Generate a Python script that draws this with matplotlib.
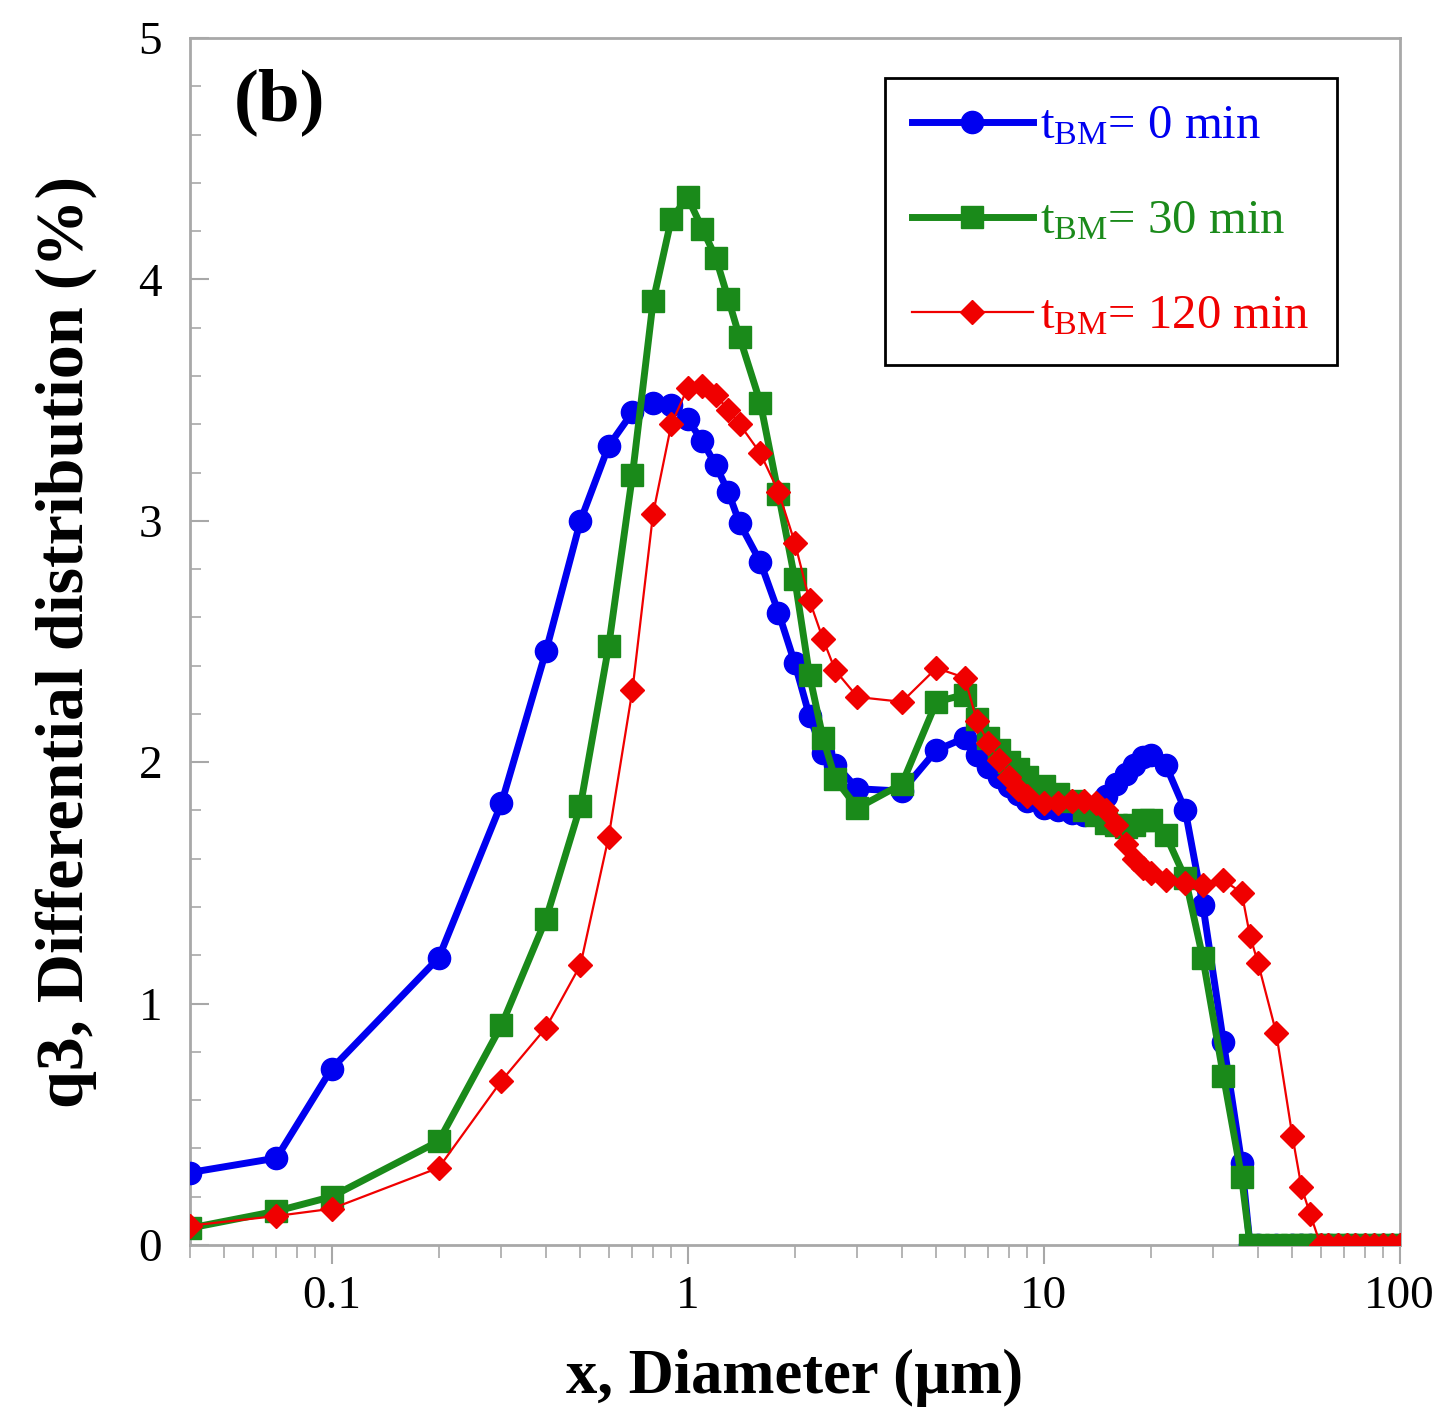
import matplotlib
matplotlib.use("Agg")
import matplotlib.pyplot as plt
from matplotlib.ticker import LogLocator, NullFormatter, FixedLocator, MultipleLocator

# ---- data ----
diameter = [0.04, 0.07, 0.1, 0.2, 0.3, 0.4, 0.5, 0.6, 0.7, 0.8, 0.9, 1.0, 1.1, 1.2, 1.3, 1.4,
            1.6, 1.8, 2.0, 2.2, 2.4, 2.6, 3, 4, 5, 6, 6.5, 7, 7.5, 8, 8.5, 9, 10, 11, 12, 13,
            14, 15, 16, 17, 18, 19, 20, 22, 25, 28, 32, 36, 38, 40, 45, 50, 53, 56, 60, 63,
            67, 71, 75, 80, 85, 90, 95, 100]

q3_0min = [0.30, 0.36, 0.73, 1.19, 1.83, 2.46, 3.00, 3.31, 3.45, 3.49, 3.48, 3.42, 3.33, 3.23, 3.12, 2.99,
           2.83, 2.62, 2.41, 2.19, 2.04, 1.99, 1.89, 1.88, 2.05, 2.10, 2.03, 1.98, 1.94, 1.90, 1.87, 1.84, 1.81, 1.80, 1.79, 1.78,
           1.79, 1.86, 1.91, 1.95, 1.99, 2.02, 2.03, 1.99, 1.80, 1.41, 0.84, 0.34, 0, 0, 0, 0, 0, 0, 0, 0,
           0, 0, 0, 0, 0, 0, 0, 0]

q3_30min = [0.07, 0.14, 0.20, 0.43, 0.91, 1.35, 1.82, 2.48, 3.19, 3.91, 4.25, 4.34, 4.21, 4.09, 3.92, 3.76,
            3.49, 3.11, 2.76, 2.36, 2.10, 1.93, 1.81, 1.91, 2.25, 2.28, 2.18, 2.10, 2.05, 2.00, 1.97, 1.94, 1.90, 1.87, 1.84, 1.80,
            1.78, 1.75, 1.74, 1.73, 1.74, 1.76, 1.76, 1.70, 1.52, 1.19, 0.70, 0.28, 0, 0, 0, 0, 0, 0, 0, 0,
            0, 0, 0, 0, 0, 0, 0, 0]

q3_120min = [0.08, 0.12, 0.15, 0.32, 0.68, 0.90, 1.16, 1.69, 2.30, 3.03, 3.40, 3.55, 3.56, 3.52, 3.46, 3.40,
             3.28, 3.12, 2.91, 2.67, 2.51, 2.38, 2.27, 2.25, 2.39, 2.35, 2.17, 2.08, 2.01, 1.94, 1.89, 1.86, 1.83, 1.83, 1.84, 1.84,
             1.83, 1.80, 1.74, 1.66, 1.60, 1.56, 1.54, 1.51, 1.50, 1.49, 1.51, 1.46, 1.28, 1.17, 0.88, 0.45, 0.24, 0.13, 0, 0,
             0, 0, 0, 0, 0, 0, 0, 0]

labels = [r"$\mathregular{t_{BM}}$= 0 min", r"$\mathregular{t_{BM}}$= 30 min", r"$\mathregular{t_{BM}}$= 120 min"]
x_ticks = [0.1, 1, 10, 100]
x_ticklabels = ["0.1", "1", "10", "100"]
y_ticks = [0, 1, 2, 3, 4, 5]

# ---- style ----
plt.rcParams['font.family'] = ['Liberation Serif', 'DejaVu Serif']
plt.rcParams['mathtext.fontset'] = 'stix'

fig = plt.figure(figsize=(14.38, 14.08), dpi=100)
ax = fig.add_axes([0.1321, 0.1158, 0.8412, 0.8572])

blue = '#0000f0'
green = '#1a8a1a'
red = '#f00000'

ax.plot(diameter, q3_0min, color=blue, lw=5, marker='o', ms=16, label=labels[0], zorder=3)
ax.plot(diameter, q3_30min, color=green, lw=5, marker='s', ms=16, label=labels[1], zorder=4)
ax.plot(diameter, q3_120min, color=red, lw=1.6, marker='D', ms=12, label=labels[2], zorder=5)

ax.set_xscale('log')
ax.set_xlim(0.04, 100)
ax.set_ylim(0, 5)
ax.xaxis.set_major_locator(FixedLocator(x_ticks))
ax.set_xticklabels(x_ticklabels)
ax.xaxis.set_minor_locator(LogLocator(base=10, subs=range(2, 10), numticks=20))
ax.xaxis.set_minor_formatter(NullFormatter())
ax.yaxis.set_major_locator(FixedLocator(y_ticks))
ax.yaxis.set_minor_locator(MultipleLocator(0.2))

for s in ax.spines.values():
    s.set_color('#a8a8a8')
    s.set_linewidth(2)

ax.tick_params(axis='x', which='major', direction='out', length=14, width=1.5, color='#a8a8a8',
               labelsize=34, pad=8)
ax.tick_params(axis='x', which='minor', direction='out', length=9, width=1.2, color='#a8a8a8')
ax.tick_params(axis='y', which='major', direction='in', length=14, width=1.5, color='#a8a8a8',
               labelsize=34, pad=20)
ax.tick_params(axis='y', which='minor', direction='in', length=8, width=1.2, color='#a8a8a8')

ax.set_xlabel("x, Diameter (µm)", fontsize=45, fontweight='bold', labelpad=22)
ax.set_ylabel("q3, Differential distribution (%)", fontsize=49, fontweight='bold', labelpad=30)

ax.text(0.036, 0.975, "(b)", transform=ax.transAxes, fontsize=54, fontweight='bold',
        ha='left', va='top')

leg = ax.legend(loc='upper right', bbox_to_anchor=(0.948, 0.967), fontsize=35,
                frameon=True, fancybox=False, edgecolor='black', framealpha=1,
                handlelength=2.5, handletextpad=0.15, borderpad=0.55, labelspacing=1.05,
                borderaxespad=0)
leg.get_frame().set_linewidth(2)
for t, c in zip(leg.get_texts(), [blue, green, red]):
    t.set_color(c)

fig.savefig("out.png", dpi=100)
